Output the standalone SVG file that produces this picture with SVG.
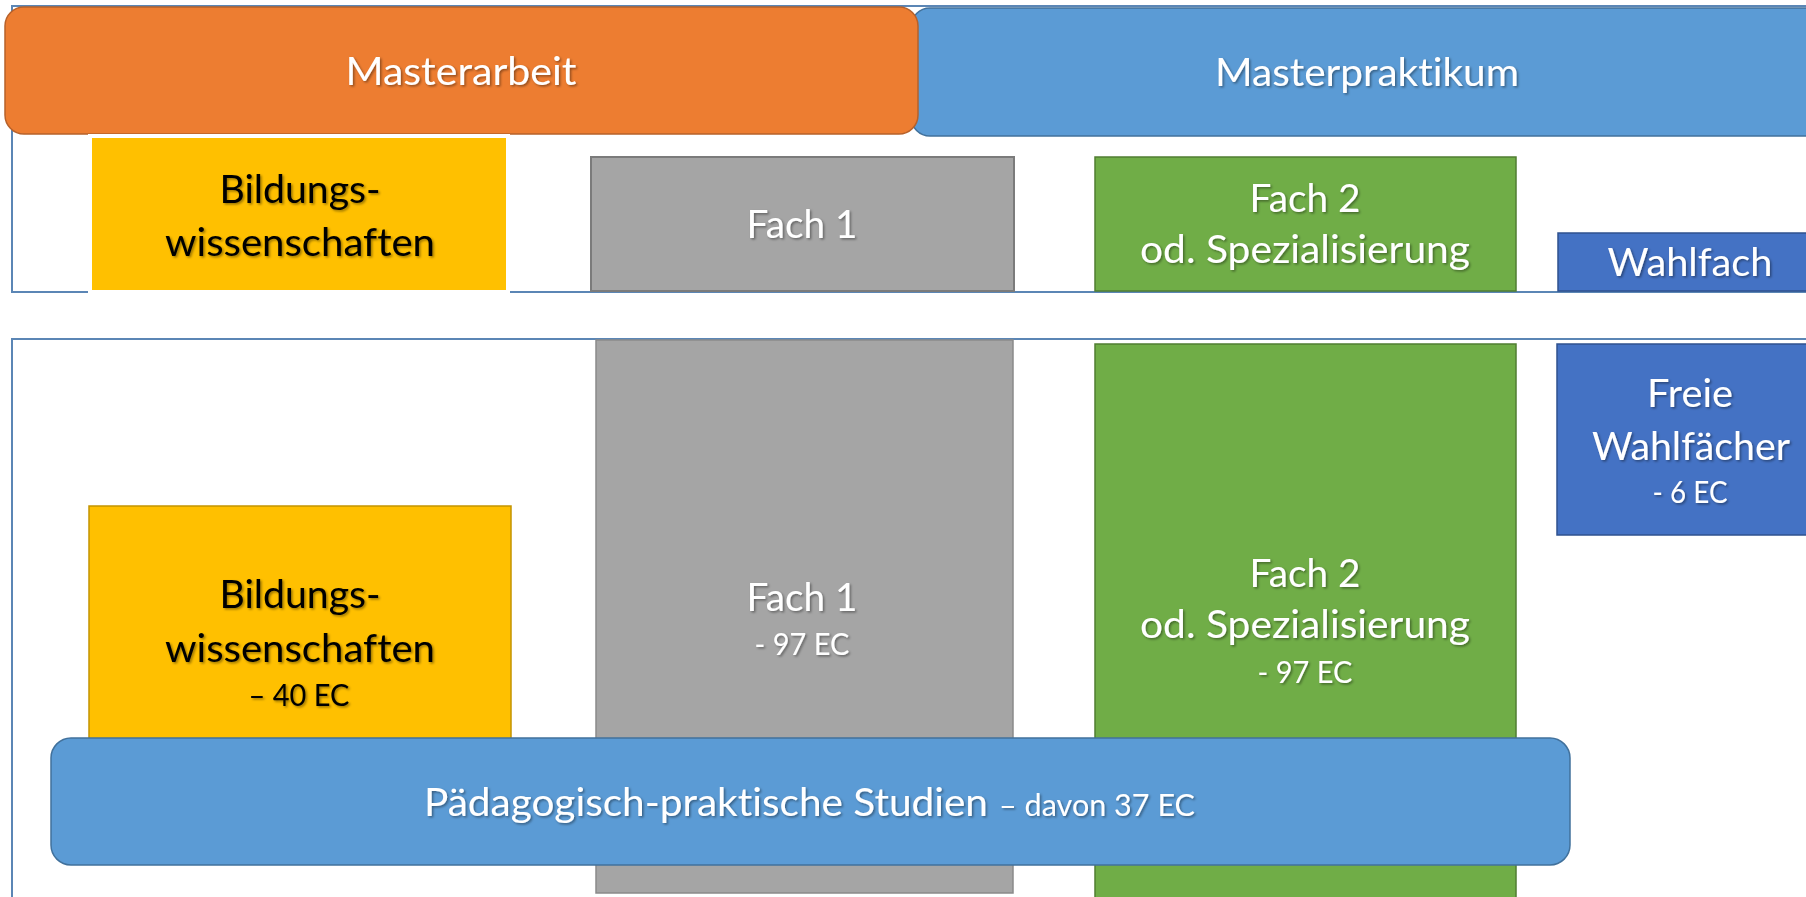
<svg xmlns="http://www.w3.org/2000/svg" width="1806" height="897" viewBox="0 0 1806 897">
<defs>
<filter id="ts" x="-10%" y="-30%" width="120%" height="160%">
<feDropShadow dx="1.5" dy="1.5" stdDeviation="1.3" flood-color="#000" flood-opacity="0.4"/>
</filter>
</defs>
<style>
.frame{fill:none;stroke:#5b86b5;stroke-width:2}
.orange{fill:#ED7D31;stroke:#B7612A;stroke-width:1.5}
.lblue{fill:#5B9BD5;stroke:#41719C;stroke-width:1.5}
.yellow{fill:#FFC000;stroke:#C49400;stroke-width:1.5}
.yellow-w{fill:#FFC000;stroke:#FFFFFF;stroke-width:4}
.grey{fill:#A5A5A5;stroke:#7B7B7B;stroke-width:2}
.grey2{fill:#A5A5A5;stroke:#8A8A8A;stroke-width:1.5}
.green{fill:#70AD47;stroke:#507E32;stroke-width:1.5}
.dblue{fill:#4472C4;stroke:#2F528F;stroke-width:1.5}
text{font-family:Lato,Carlito,"Liberation Sans",sans-serif;text-anchor:middle;filter:url(#ts);font-variant-ligatures:none;font-feature-settings:"liga" 0,"clig" 0}
.big{font-size:37.7px}
.small{font-size:30.5px}
.w{fill:#FFFFFF}
.k{fill:#000000}
</style>

<g id="frame-top"><rect class="frame" x="12" y="6" width="1830" height="286"/></g>
<g id="frame-bottom"><rect class="frame" x="12" y="339" width="1830" height="600"/></g>

<g id="masterpraktikum">
<rect class="lblue" x="911" y="8" width="920" height="128" rx="19"/>
<text class="big w" x="1367" y="86" textLength="304" lengthAdjust="spacingAndGlyphs">Masterpraktikum</text>
</g>

<g id="masterarbeit">
<rect class="orange" x="5" y="7" width="913" height="127" rx="19"/>
<text class="big w" x="461" y="85" textLength="231" lengthAdjust="spacingAndGlyphs">Masterarbeit</text>
</g>

<g id="bildung-top">
<rect class="yellow-w" x="90" y="136" width="418" height="156"/>
<text class="big k" x="300" y="203" textLength="161" lengthAdjust="spacingAndGlyphs">Bildungs-</text>
<text class="big k" x="300" y="256" textLength="270" lengthAdjust="spacingAndGlyphs">wissenschaften</text>
</g>

<g id="fach1-top">
<rect class="grey" x="591" y="157" width="423" height="134"/>
<text class="big w" x="802" y="238" textLength="111" lengthAdjust="spacingAndGlyphs">Fach 1</text>
</g>

<g id="fach2-top">
<rect class="green" x="1095" y="157" width="421" height="134"/>
<text class="big w" x="1305" y="212" textLength="111" lengthAdjust="spacingAndGlyphs">Fach 2</text>
<text class="big w" x="1305" y="263" textLength="330" lengthAdjust="spacingAndGlyphs">od. Spezialisierung</text>
</g>

<g id="wahlfach">
<rect class="dblue" x="1558" y="233" width="265" height="58"/>
<text class="big w" x="1690" y="276" textLength="165" lengthAdjust="spacingAndGlyphs">Wahlfach</text>
</g>

<g id="fach1-bottom">
<rect class="grey2" x="596" y="340" width="417" height="553"/>
<text class="big w" x="802" y="611" textLength="111" lengthAdjust="spacingAndGlyphs">Fach 1</text>
<text class="small w" x="802" y="655" textLength="95" lengthAdjust="spacingAndGlyphs">- 97 EC</text>
</g>

<g id="fach2-bottom">
<rect class="green" x="1095" y="344" width="421" height="600"/>
<text class="big w" x="1305" y="587" textLength="111" lengthAdjust="spacingAndGlyphs">Fach 2</text>
<text class="big w" x="1305" y="638" textLength="330" lengthAdjust="spacingAndGlyphs">od. Spezialisierung</text>
<text class="small w" x="1305" y="683" textLength="95" lengthAdjust="spacingAndGlyphs">- 97 EC</text>
</g>

<g id="freie-wahlfaecher">
<rect class="dblue" x="1557" y="344" width="266" height="191"/>
<text class="big w" x="1690" y="407" textLength="86" lengthAdjust="spacingAndGlyphs">Freie</text>
<text class="big w" x="1691" y="460" textLength="198" lengthAdjust="spacingAndGlyphs">Wahlfächer</text>
<text class="small w" x="1690" y="503" textLength="75" lengthAdjust="spacingAndGlyphs">- 6 EC</text>
</g>

<g id="bildung-bottom">
<rect class="yellow" x="89" y="506" width="422" height="260"/>
<text class="big k" x="300" y="608" textLength="161" lengthAdjust="spacingAndGlyphs">Bildungs-</text>
<text class="big k" x="300" y="662" textLength="270" lengthAdjust="spacingAndGlyphs">wissenschaften</text>
<text class="small k" x="299" y="706" textLength="101" lengthAdjust="spacingAndGlyphs">– 40 EC</text>
</g>

<g id="paedagogisch-praktische-studien">
<rect class="lblue" x="51" y="738" width="1519" height="127" rx="20"/>
<text class="big w" x="706" y="816" textLength="564" lengthAdjust="spacingAndGlyphs">Pädagogisch-praktische Studien</text>
<text class="small w" x="1097" y="816" textLength="196" lengthAdjust="spacingAndGlyphs">– davon 37 EC</text>
</g>
</svg>
